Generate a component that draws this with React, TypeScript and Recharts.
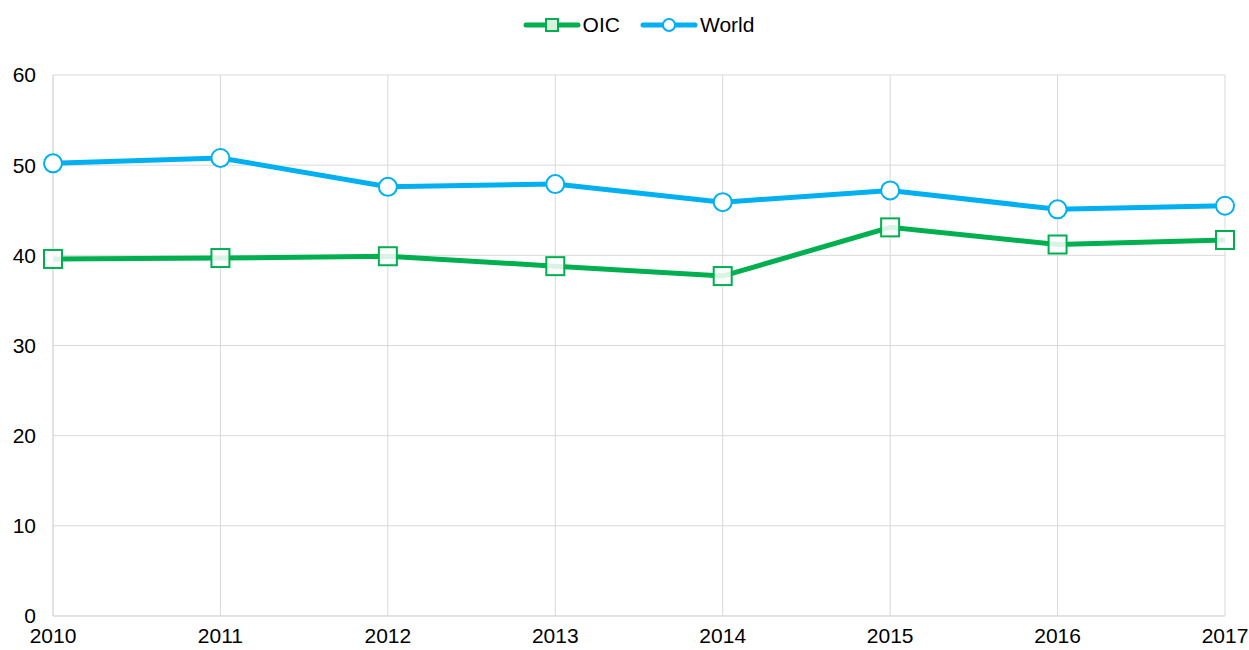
import { LineChart, Line, XAxis, YAxis, CartesianGrid } from "recharts";

const years = ["2010", "2011", "2012", "2013", "2014", "2015", "2016", "2017"];
const oic = [39.6, 39.7, 39.9, 38.8, 37.7, 43.1, 41.2, 41.7];
const world = [50.2, 50.8, 47.6, 47.9, 45.9, 47.2, 45.1, 45.5];
const yTicks = [0, 10, 20, 30, 40, 50, 60];

const data = years.map((y, i) => ({ year: y, OIC: oic[i], World: world[i] }));

const GREEN = "#00B050";
const BLUE = "#00B0F0";
const FONT = "'Liberation Sans', Arial, sans-serif";

const SquareDot = (props: any) => {
  const { cx, cy } = props;
  if (cx == null || cy == null) return null;
  return (
    <rect x={cx - 9} y={cy - 9} width={18} height={18} fill="#ffffff" fillOpacity={0.85} stroke={GREEN} strokeWidth={2} />
  );
};

const LegendBox = () => (
  <div style={{ display: "flex", justifyContent: "center", alignItems: "center", fontFamily: FONT, fontSize: 21, color: "#000", paddingLeft: 28 }}>
    <svg width={58} height={14} style={{ marginRight: 2 }}>
      <line x1={3} y1={7} x2={55} y2={7} stroke={GREEN} strokeWidth={5} strokeLinecap="round" />
      <rect x={23} y={1} width={12} height={12} fill="#d9f0dd" stroke={GREEN} strokeWidth={2} />
    </svg>
    <span style={{ marginRight: 20 }}>OIC</span>
    <svg width={58} height={14} style={{ marginRight: 2 }}>
      <line x1={3} y1={7} x2={55} y2={7} stroke={BLUE} strokeWidth={5} strokeLinecap="round" />
      <circle cx={29} cy={7} r={6} fill="#ffffff" stroke={BLUE} strokeWidth={2} />
    </svg>
    <span>World</span>
  </div>
);

export default function App() {
  return (
    <div style={{ position: "absolute", left: 0, top: 0, width: 1249, height: 650, background: "#fff" }}>
      <div style={{ position: "absolute", left: 0, top: 13, width: 1249 }}>
        <LegendBox />
      </div>
      <LineChart width={1249} height={650} data={data} margin={{ top: 75, right: 24, left: 0, bottom: 0 }}>
        <CartesianGrid stroke="#d9d9d9" strokeWidth={1} />
        <XAxis
          dataKey="year"
          stroke="#d9d9d9"
          tickLine={false}
          tickSize={0}
          tickMargin={12}
          height={34}
          interval={0}
          tick={{ fill: "#000", fontSize: 21, fontFamily: FONT }}
        />
        <YAxis
          domain={[0, 60]}
          ticks={yTicks}
          width={53}
          stroke="#d9d9d9"
          tickLine={false}
          tickSize={0}
          tickMargin={17}
          tick={{ fill: "#000", fontSize: 21, fontFamily: FONT }}
        />
        <Line
          dataKey="OIC"
          stroke={GREEN}
          strokeWidth={5}
          dot={<SquareDot />}
          isAnimationActive={false}
        />
        <Line
          dataKey="World"
          stroke={BLUE}
          strokeWidth={5}
          dot={{ r: 9, fill: "#fff", stroke: BLUE, strokeWidth: 2 }}
          isAnimationActive={false}
        />
      </LineChart>
    </div>
  );
}
